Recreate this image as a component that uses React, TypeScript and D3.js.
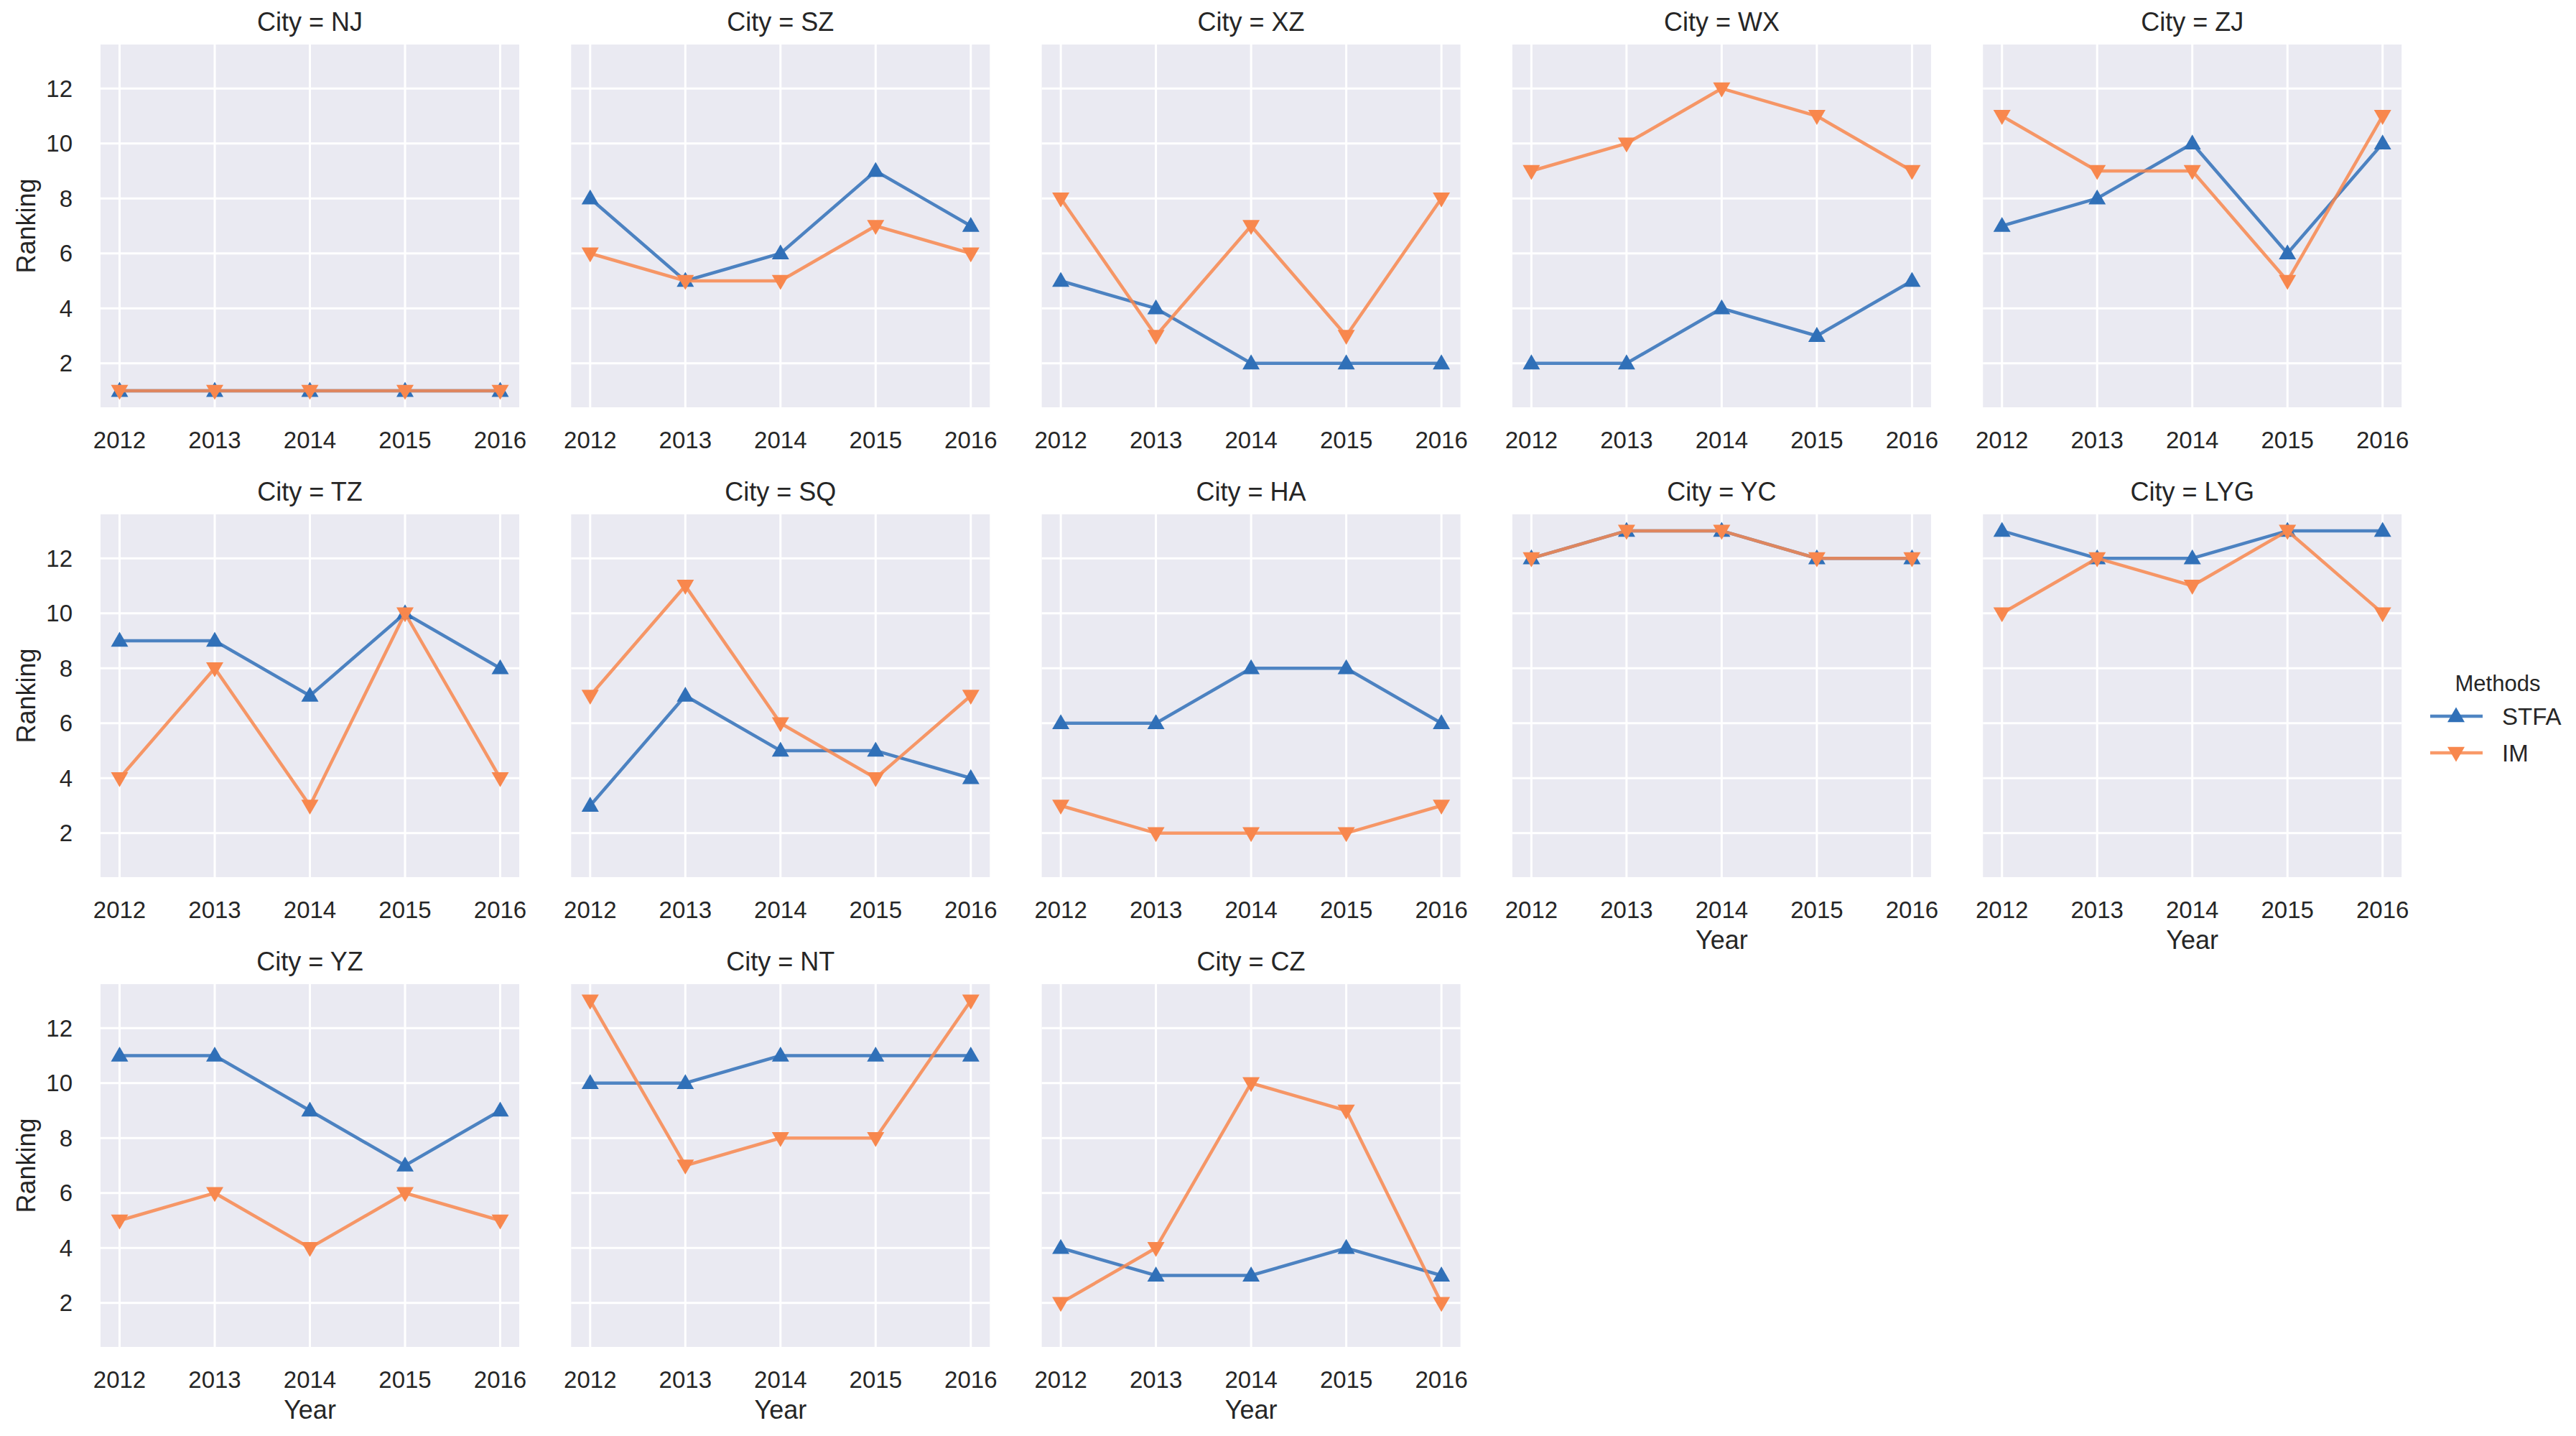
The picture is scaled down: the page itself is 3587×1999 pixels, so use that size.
import * as d3 from 'd3'
import { useEffect, useRef } from 'react'

const cities = ['NJ', 'SZ', 'XZ', 'WX', 'ZJ', 'TZ', 'SQ', 'HA', 'YC', 'LYG', 'YZ', 'NT', 'CZ']
const years = [2012, 2013, 2014, 2015, 2016]
const yTicks = [2, 4, 6, 8, 10, 12]
const methods = ['STFA', 'IM']

// one row per city, one value per year
const stfaRanks = [
  [1, 1, 1, 1, 1],
  [8, 5, 6, 9, 7],
  [5, 4, 2, 2, 2],
  [2, 2, 4, 3, 5],
  [7, 8, 10, 6, 10],
  [9, 9, 7, 10, 8],
  [3, 7, 5, 5, 4],
  [6, 6, 8, 8, 6],
  [12, 13, 13, 12, 12],
  [13, 12, 12, 13, 13],
  [11, 11, 9, 7, 9],
  [10, 10, 11, 11, 11],
  [4, 3, 3, 4, 3],
]
const imRanks = [
  [1, 1, 1, 1, 1],
  [6, 5, 5, 7, 6],
  [8, 3, 7, 3, 8],
  [9, 10, 12, 11, 9],
  [11, 9, 9, 5, 11],
  [4, 8, 3, 10, 4],
  [7, 11, 6, 4, 7],
  [3, 2, 2, 2, 3],
  [12, 13, 13, 12, 12],
  [10, 12, 11, 13, 10],
  [5, 6, 4, 6, 5],
  [13, 7, 8, 8, 13],
  [2, 4, 10, 9, 2],
]

const WIDTH = 3587
const HEIGHT = 1999
const NCOL = 5
const PANEL = { LEFT: 140, TOP: 62, W: 583, H: 505, STEPX: 655.3, STEPY: 654 }
const COLORS = ['#3070b8', '#f8874d']
const TEXT = '#262626'
const FONT = '"Liberation Sans", Arial, sans-serif'
const MARKER = 24

const triangle = (up: boolean, s: number) => {
  const h = s * 0.87
  return up
    ? `M0,${-h * 0.6}L${s / 2},${h * 0.4}L${-s / 2},${h * 0.4}Z`
    : `M0,${h * 0.6}L${s / 2},${-h * 0.4}L${-s / 2},${-h * 0.4}Z`
}

const draw = (node: SVGSVGElement) => {
  const svg = d3.select(node)
  svg.selectAll('*').remove()

  const x = d3.scaleLinear().domain([2011.8, 2016.2]).range([0, PANEL.W])
  const y = d3.scaleLinear().domain([0.4, 13.6]).range([PANEL.H, 0])

  const line = d3.line<number>()
    .x((d, i) => x(years[i]))
    .y(d => y(d))

  cities.forEach((city, ci) => {
    const col = ci % NCOL
    const row = Math.floor(ci / NCOL)
    const g = svg.append('g')
      .attr('transform', `translate(${PANEL.LEFT + col * PANEL.STEPX},${PANEL.TOP + row * PANEL.STEPY})`)

    g.append('rect')
      .attr('width', PANEL.W)
      .attr('height', PANEL.H)
      .attr('fill', '#eaeaf2')

    g.selectAll('.vgrid')
      .data(years)
      .join('line')
      .attr('x1', d => x(d)).attr('x2', d => x(d))
      .attr('y1', 0).attr('y2', PANEL.H)
      .attr('stroke', 'white').attr('stroke-width', 3)

    g.selectAll('.hgrid')
      .data(yTicks)
      .join('line')
      .attr('y1', d => y(d)).attr('y2', d => y(d))
      .attr('x1', 0).attr('x2', PANEL.W)
      .attr('stroke', 'white').attr('stroke-width', 3)

    g.append('text')
      .attr('x', PANEL.W / 2)
      .attr('y', -19)
      .attr('text-anchor', 'middle')
      .attr('font-size', 36)
      .attr('font-family', FONT)
      .attr('fill', TEXT)
      .text(`City = ${city}`)

    g.selectAll('.xtick')
      .data(years)
      .join('text')
      .attr('x', d => x(d))
      .attr('y', PANEL.H + 57)
      .attr('text-anchor', 'middle')
      .attr('font-size', 33)
      .attr('font-family', FONT)
      .attr('fill', TEXT)
      .text(d => d)

    if (col === 0) {
      g.selectAll('.ytick')
        .data(yTicks)
        .join('text')
        .attr('x', -39)
        .attr('y', d => y(d))
        .attr('dy', '0.35em')
        .attr('text-anchor', 'end')
        .attr('font-size', 33)
        .attr('font-family', FONT)
        .attr('fill', TEXT)
        .text(d => d)

      g.append('text')
        .attr('transform', `translate(-91,${PANEL.H / 2}) rotate(-90)`)
        .attr('text-anchor', 'middle')
        .attr('font-size', 36)
        .attr('font-family', FONT)
        .attr('fill', TEXT)
        .text('Ranking')
    }

    // bottom panel of its column gets the x label
    if (ci + NCOL >= cities.length) {
      g.append('text')
        .attr('x', PANEL.W / 2)
        .attr('y', PANEL.H + 100)
        .attr('text-anchor', 'middle')
        .attr('font-size', 36)
        .attr('font-family', FONT)
        .attr('fill', TEXT)
        .text('Year')
    }

    const series = [stfaRanks[ci], imRanks[ci]]
    series.forEach((vals, si) => {
      g.append('path')
        .attr('d', line(vals))
        .attr('fill', 'none')
        .attr('stroke', COLORS[si])
        .attr('stroke-width', 4.5)
        .attr('stroke-opacity', 0.85)

      g.selectAll(`.m${si}`)
        .data(vals)
        .join('path')
        .attr('transform', (d, i) => `translate(${x(years[i])},${y(d)})`)
        .attr('d', triangle(si === 0, MARKER))
        .attr('fill', COLORS[si])
    })
  })

  // legend
  const lg = svg.append('g').attr('transform', 'translate(3384,0)')
  lg.append('text')
    .attr('x', 94)
    .attr('y', 962)
    .attr('text-anchor', 'middle')
    .attr('font-size', 31)
    .attr('font-family', FONT)
    .attr('fill', TEXT)
    .text('Methods')

  methods.forEach((m, i) => {
    const yy = 997 + i * 51
    lg.append('line')
      .attr('x1', 0).attr('x2', 73)
      .attr('y1', yy).attr('y2', yy)
      .attr('stroke', COLORS[i])
      .attr('stroke-width', 4.5)
      .attr('stroke-opacity', 0.85)
    lg.append('path')
      .attr('transform', `translate(36,${yy})`)
      .attr('d', triangle(i === 0, MARKER))
      .attr('fill', COLORS[i])
    lg.append('text')
      .attr('x', 100)
      .attr('y', yy)
      .attr('dy', '0.36em')
      .attr('font-size', 33)
      .attr('font-family', FONT)
      .attr('fill', TEXT)
      .text(m)
  })
}

export default function App() {
  const ref = useRef<SVGSVGElement>(null)

  useEffect(() => {
    document.body.style.margin = '0'
    if (ref.current) draw(ref.current)
  }, [])

  return <svg ref={ref} width={WIDTH} height={HEIGHT} style={{ display: 'block', background: 'white' }} />
}
